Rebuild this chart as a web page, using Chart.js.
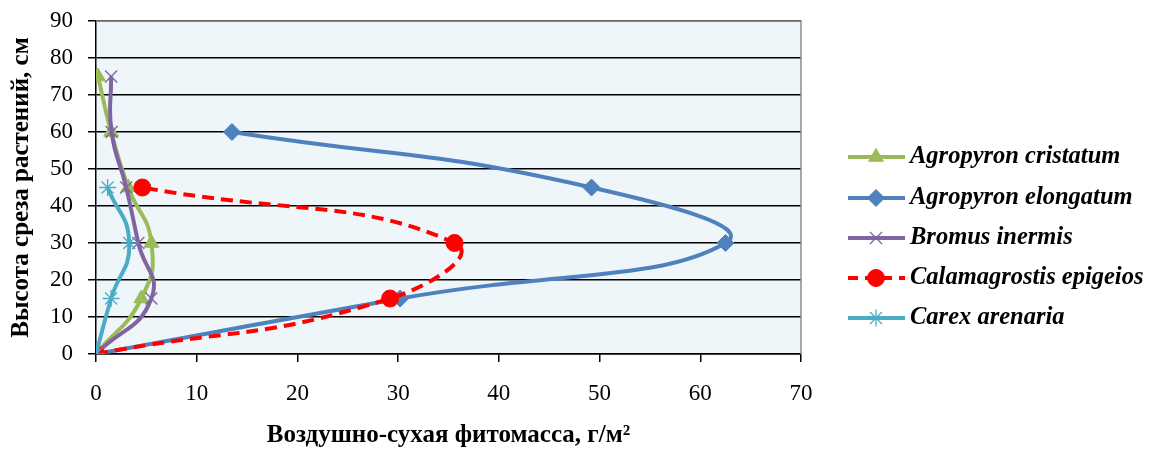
<html>
<head>
<meta charset="utf-8">
<script src="https://cdn.jsdelivr.net/npm/chart.js@4.4.0/dist/chart.umd.min.js"></script>
<style>
  body { margin:0; background:#fff; }
</style>
</head>
<body>
<canvas id="myChart" width="1152" height="451"></canvas>
<script>
// heights (cm) at which samples were cut
var heights = [0, 15, 30, 45, 60, 75];
var heightsShort = [0, 15, 30, 45, 60];
var heightsCarex = [0, 15, 30, 45];

// dry phytomass, g/m2
var cristatum = [0, 4.5, 5.5, 3.2, 1.5, 0.2];
var elongatum = [0, 30.2, 62.5, 49.2, 13.5];
var bromus = [0, 5.5, 4.2, 3.0, 1.55, 1.5];
var calamagrostis = [0, 29.2, 35.6, 4.6];
var carex = [0, 1.5, 3.3, 1.15];

var names = ["Agropyron cristatum", "Agropyron elongatum", "Bromus inermis", "Calamagrostis epigeios", "Carex arenaria"];
var xTicks = [0, 10, 20, 30, 40, 50, 60, 70];
var yTicks = [0, 10, 20, 30, 40, 50, 60, 70, 80, 90];

function pts(xs, ys){
  var out = [];
  for (var i = 0; i < xs.length; i++) out.push({x: xs[i], y: ys[i]});
  return out;
}

var serif = "'Liberation Serif', 'Times New Roman', serif";

var sets = [
  {label:names[0], data:pts(cristatum, heights), borderColor:"#9BBB59", backgroundColor:"#9BBB59", pointStyle:"triangle", pointRadius:8.5, borderWidth:4, pointBorderWidth:1},
  {label:names[1], data:pts(elongatum, heightsShort), borderColor:"#4F81BD", backgroundColor:"#4F81BD", pointStyle:"rectRot", pointRadius:8.5, borderWidth:4, pointBorderWidth:1},
  {label:names[2], data:pts(bromus, heights), borderColor:"#8064A2", backgroundColor:"#8064A2", pointStyle:"crossRot", pointRadius:8.5, borderWidth:4, pointBorderWidth:1.3},
  {label:names[3], data:pts(calamagrostis, heightsCarex), borderColor:"#FF0000", backgroundColor:"#FF0000", pointStyle:"circle", pointRadius:8.5, borderWidth:4, borderDash:[12,7], pointBorderWidth:1},
  {label:names[4], data:pts(carex, heightsCarex), borderColor:"#4BACC6", backgroundColor:"#4BACC6", pointStyle:"star", pointRadius:8.5, borderWidth:4, pointBorderWidth:1.3}
];
sets.forEach(function(s, i){
  s.showLine = true;
  s.tension = 0.5;
  s.order = -i;
  s.pointHoverRadius = s.pointRadius;
});

var plotBg = {
  id:'plotBg',
  beforeDraw: function(chart){
    var a = chart.chartArea, c = chart.ctx;
    c.save();
    c.fillStyle = '#EEF6FA';
    c.fillRect(a.left, a.top, a.right - a.left, a.bottom - a.top);
    c.restore();
  },
  afterDatasetsDraw: function(chart){
    var a = chart.chartArea, c = chart.ctx;
    c.save();
    c.strokeStyle = '#8C8C8C';
    c.lineWidth = 1.5;
    c.beginPath();
    c.moveTo(a.left, a.top); c.lineTo(a.right, a.top); c.lineTo(a.right, a.bottom);
    c.stroke();
    c.restore();
  }
};

// legend drawn by hand: line sample + marker, like the office chart
var sideLegend = {
  id:'sideLegend',
  afterDraw: function(chart){
    var c = chart.ctx;
    var ys = [157, 198, 238, 278, 318];
    c.save();
    chart.data.datasets.forEach(function(ds, i){
      var y = ys[i];
      c.strokeStyle = ds.borderColor;
      c.lineWidth = 4;
      c.setLineDash(ds.borderDash ? [10,7] : []);
      c.beginPath();
      c.moveTo(848, y); c.lineTo(905, y);
      c.stroke();
      c.setLineDash([]);
      c.fillStyle = ds.borderColor;
      c.strokeStyle = ds.borderColor;
      c.lineWidth = ds.pointBorderWidth;
      Chart.helpers.drawPoint(c, {pointStyle:ds.pointStyle, radius:ds.pointRadius, borderWidth:ds.pointBorderWidth, rotation:0}, 876, y);
      c.fillStyle = '#000';
      c.font = 'italic bold 24.5px ' + serif;
      c.textBaseline = 'middle';
      c.textAlign = 'left';
      c.fillText(ds.label, 910, y);
    });
    c.restore();
  }
};

var ctx = document.getElementById('myChart');
var myChart = new Chart(ctx, {
  type:'scatter',
  data:{ datasets:sets },
  options:{
    responsive:false,
    animation:false,
    layout:{ padding:{ top:21, right:351, bottom:0, left:0 } },
    plugins:{ legend:{display:false}, tooltip:{enabled:false} },
    scales:{
      x:{
        min:0, max:70,
        afterBuildTicks: function(s){ s.ticks = xTicks.map(function(v){ return {value:v}; }); },
        afterFit: function(s){ s.height = 97; },
        grid:{ drawOnChartArea:false, drawTicks:true, tickLength:8, color:'#000', lineWidth:1.5 },
        border:{ color:'#000', width:1.5 },
        ticks:{ color:'#000', font:{family:serif, size:23}, padding:18, maxRotation:0 },
        title:{ display:true, text:'Воздушно-сухая фитомасса, г/м²', color:'#000', font:{family:serif, size:25, weight:'bold'}, padding:{top:0, bottom:0} }
      },
      y:{
        min:0, max:90,
        afterBuildTicks: function(s){ s.ticks = yTicks.map(function(v){ return {value:v}; }); },
        afterFit: function(s){ s.width = 96; s.paddingTop = 0; s.paddingBottom = 0; },
        grid:{ color:'#000', lineWidth:1.5, tickLength:8 },
        border:{ color:'#000', width:1.5 },
        ticks:{ color:'#000', font:{family:serif, size:23}, padding:15 },
        title:{ display:true, text:'Высота среза растений, см', color:'#000', font:{family:serif, size:25, weight:'bold'}, padding:{top:7, bottom:0} }
      }
    }
  },
  plugins:[plotBg, sideLegend]
});
</script>
</body>
</html>
